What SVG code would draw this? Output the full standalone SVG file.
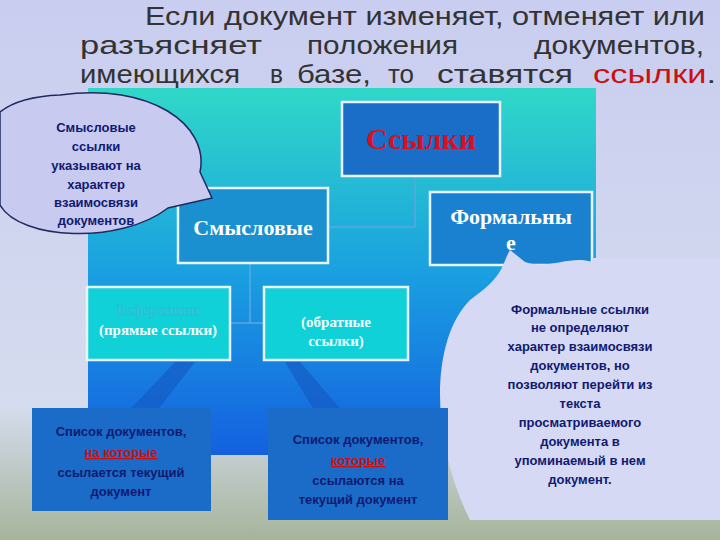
<svg xmlns="http://www.w3.org/2000/svg" width="720" height="540" viewBox="0 0 720 540">
<defs>
<linearGradient id="bg" x1="0" y1="0" x2="0" y2="1">
<stop offset="0" stop-color="#c9cdf0"/><stop offset="0.75" stop-color="#d5dcee"/><stop offset="1" stop-color="#a6b49a"/>
</linearGradient>
<linearGradient id="panel" x1="0" y1="0" x2="0" y2="1">
<stop offset="0" stop-color="#30d8c8"/><stop offset="0.5" stop-color="#1aa0e0"/><stop offset="1" stop-color="#1460e0"/>
</linearGradient>
<style>
.title{font-family:"Liberation Sans",Arial,sans-serif;font-size:25px;fill:#333}
.box{stroke:#e8f4ff;stroke-width:2.5}
.serif{font-family:"Liberation Serif","Times New Roman",serif;font-weight:bold;text-anchor:middle}
.note{font-family:"Liberation Sans",Arial,sans-serif;font-weight:bold;font-size:13px;fill:#101a70;text-anchor:middle}
.conn{stroke:#5aa8e0;stroke-width:1.5;fill:none}
</style>
</defs>
<rect width="720" height="540" fill="url(#bg)"/>
<g id="title" class="title" lengthAdjust="spacingAndGlyphs">
<text x="145" y="25" textLength="560" lengthAdjust="spacingAndGlyphs">Если документ изменяет, отменяет или</text>
<text x="80" y="54" textLength="182" lengthAdjust="spacingAndGlyphs">разъясняет</text>
<text x="307" y="54" textLength="151" lengthAdjust="spacingAndGlyphs">положения</text>
<text x="534" y="54" textLength="170" lengthAdjust="spacingAndGlyphs">документов,</text>
<text x="80" y="83" textLength="160" lengthAdjust="spacingAndGlyphs">имеющихся</text>
<text x="270" y="83" textLength="13" lengthAdjust="spacingAndGlyphs">в</text>
<text x="297" y="83" textLength="74" lengthAdjust="spacingAndGlyphs">базе,</text>
<text x="388" y="83" textLength="26" lengthAdjust="spacingAndGlyphs">то</text>
<text x="437" y="83" textLength="136" lengthAdjust="spacingAndGlyphs">ставятся</text>
<text x="593" y="83" textLength="123" lengthAdjust="spacingAndGlyphs"><tspan fill="#cc1010">ссылки</tspan>.</text>
</g>
<rect id="panel" x="88" y="88" width="508" height="367" fill="url(#panel)"/>
<g id="connectors">
<path class="conn" d="M415 176V227H328M250 263V323M231 323H264"/>
<polygon points="175,362 195,362 150,420 120,420" fill="#1656c0" opacity="0.6"/>
<polygon points="285,362 300,362 350,420 320,420" fill="#1656c0" opacity="0.6"/>
</g>
<g id="ssylki"><rect class="box" x="342" y="102" width="158" height="74" fill="#1a6ec8"/>
<text class="serif" x="421" y="149" font-size="30" fill="#d81020">Ссылки</text></g>
<g id="smysl"><rect class="box" x="178" y="188" width="150" height="75" fill="#1a90d0"/>
<text class="serif" x="253" y="235" font-size="22" fill="#fff">Смысловые</text></g>
<g id="formal"><rect class="box" x="430" y="192" width="162" height="73" fill="#1a80d0"/>
<text class="serif" x="511" y="224" font-size="22" fill="#fff">Формальны</text>
<text class="serif" x="511" y="250" font-size="22" fill="#fff">е</text></g>
<g id="ref"><rect class="box" x="87" y="287" width="143" height="73" fill="#10d0d8"/>
<text class="serif" x="158" y="315" font-size="15" fill="#30c8d8" stroke="#20b8d0" stroke-width="0.3">Референции</text>
<text class="serif" x="158" y="335" font-size="15" fill="#f0ffff">(прямые ссылки)</text></g>
<g id="obr"><rect class="box" x="264" y="287" width="144" height="73" fill="#10d0d8"/>
<text class="serif" x="336" y="327" font-size="15" fill="#f0ffff">(обратные</text>
<text class="serif" x="336" y="346" font-size="15" fill="#f0ffff">ссылки)</text></g>
<g id="bubbleLeft">
<path d="M60 95 C150 82 210 125 200 172 L212 198 L168 208 C120 245 20 240 0 205 L0 112 C15 100 35 96 60 95Z" fill="#c8caf0" stroke="#202a60" stroke-width="1.5"/>
<g class="note" font-size="12.5"><text x="96" y="132">Смысловые</text><text x="96" y="151">ссылки</text><text x="96" y="170">указывают на</text><text x="96" y="189">характер</text><text x="96" y="207">взаимосвязи</text><text x="96" y="225">документов</text></g>
</g>
<g id="bubbleRight">
<path d="M720 258 L592 258 L592 262 C570 255 550 270 525 262 L510 250 C500 268 505 275 470 300 C430 340 430 440 470 520 L720 520Z" fill="#d6d9f4"/>
<g class="note"><text x="580" y="314">Формальные ссылки</text><text x="580" y="332">не определяют</text><text x="580" y="351">характер взаимосвязи</text><text x="580" y="370">документов, но</text><text x="580" y="389">позволяют перейти из</text><text x="580" y="408">текста</text><text x="580" y="427">просматриваемого</text><text x="580" y="446">документа в</text><text x="580" y="465">упоминаемый в нем</text><text x="580" y="484">документ.</text></g>
</g>
<g id="listLeft"><rect x="32" y="408" width="179" height="103" fill="#1a6cc8"/>
<g class="note"><text x="121" y="436">Список документов,</text><text x="121" y="457" fill="#cc1010" text-decoration="underline">на которые</text><text x="121" y="477">ссылается текущий</text><text x="121" y="496">документ</text></g></g>
<g id="listRight"><rect x="268" y="408" width="180" height="112" fill="#1a6cc8"/>
<g class="note"><text x="358" y="444">Список документов,</text><text x="358" y="465" fill="#cc1010" text-decoration="underline">которые</text><text x="358" y="485">ссылаются на</text><text x="358" y="504">текущий документ</text></g></g>
</svg>
